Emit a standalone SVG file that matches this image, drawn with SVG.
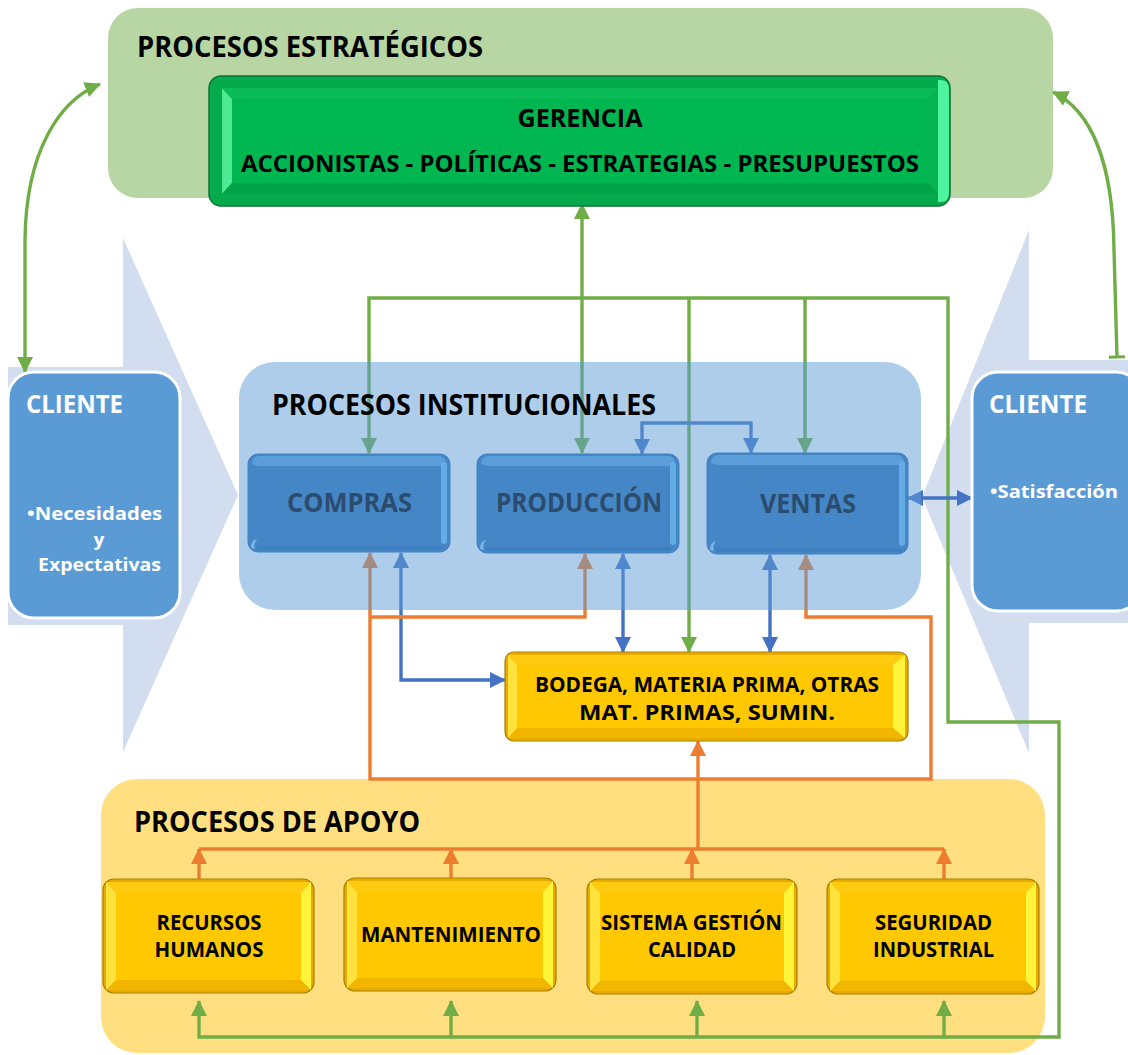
<svg xmlns="http://www.w3.org/2000/svg" width="1128" height="1055" viewBox="0 0 1128 1055">
  <style>
    .t{font-family:'Open Sans',Lato,'Liberation Sans',Arial,sans-serif;font-weight:700}
    .title{font-size:28px;fill:#000}
    .g{fill:none;stroke:#70AD47;stroke-width:3.4}
    .b{fill:none;stroke:#4472C4;stroke-width:3.4}
    .o{fill:none;stroke:#ED7D31;stroke-width:3.4}
    .chev{fill:#D2DEEF}
    .client{fill:#5B9BD5;stroke:#fff;stroke-width:3}
    .ctext{fill:#fff}
    .y-rim{fill:#E8AC00;stroke:#A98000;stroke-width:1.2}
    .y-l{fill:#FFE33C}
    .y-r{fill:#FFF43A}
    .y-t{fill:#FFCA10}
    .y-b{fill:#F2B500}
    .y-f{fill:#FFC800}
    .b-rim{fill:#4486C6;stroke:#4180C2;stroke-width:1}
    .b-t{fill:#5C9ED9}
    .b-r{fill:#66ACE4}
    .b-b{fill:#3F80C0}
    .btext{fill:#2C4C6E;font-size:26px}
    .ytext{fill:#000;font-size:20.5px}
  </style>
  <defs>
    <marker id="ag" viewBox="0 0 16 16" refX="15" refY="8" markerWidth="16" markerHeight="16" markerUnits="userSpaceOnUse" orient="auto-start-reverse"><path d="M0,0L16,8L0,16z" fill="#70AD47"/></marker>
    <marker id="ab" viewBox="0 0 16 16" refX="15" refY="8" markerWidth="16" markerHeight="16" markerUnits="userSpaceOnUse" orient="auto-start-reverse"><path d="M0,0L16,8L0,16z" fill="#4472C4"/></marker>
    <marker id="ao" viewBox="0 0 16 16" refX="15" refY="8" markerWidth="16" markerHeight="16" markerUnits="userSpaceOnUse" orient="auto-start-reverse"><path d="M0,0L16,8L0,16z" fill="#ED7D31"/></marker>
    <marker id="tg" viewBox="0 0 4 16" refX="2" refY="8" markerWidth="4" markerHeight="16" markerUnits="userSpaceOnUse" orient="auto"><path d="M2,0V16" stroke="#70AD47" stroke-width="3"/></marker>
  </defs>

  <!-- background chevrons -->
  <polygon class="chev" points="8,367 123,367 123,238 238,495 123,752 123,625 8,625"/>
  <polygon class="chev" points="1128,360 1029,360 1029,230 922,497 1029,753 1029,623 1128,623"/>

  <!-- process containers -->
  <g id="estrategicos">
    <rect x="108" y="8" width="945" height="190" rx="30" fill="#B8D6A3"/>
    <text class="t title" x="137" y="57" textLength="346" lengthAdjust="spacingAndGlyphs">PROCESOS ESTRATÉGICOS</text>
  </g>
  <g id="apoyo">
    <rect x="101" y="779" width="944" height="274" rx="36" fill="#FFDF80"/>
    <text class="t title" x="134" y="832" textLength="286" lengthAdjust="spacingAndGlyphs">PROCESOS DE APOYO</text>
  </g>

  <!-- connectors -->
  <g id="connectors">
    <path class="g" d="M100,84 C60,100 26,150 25,240 L25,372" marker-start="url(#ag)" marker-end="url(#ag)"/>
    <path class="g" d="M1053,92 C1090,110 1113,160 1114,250 L1117,357" marker-start="url(#ag)" marker-end="url(#tg)"/>
    <path class="g" d="M582,204 V453" marker-start="url(#ag)" marker-end="url(#ag)"/>
    <path class="g" d="M369,453 V298 H948 V722 H1059 V1037 H199 V1001" marker-start="url(#ag)" marker-end="url(#ag)"/>
    <path class="g" d="M689,298 V652" marker-end="url(#ag)"/>
    <path class="g" d="M805,298 V453" marker-end="url(#ag)"/>
    <path class="g" d="M451,1037 V1001" marker-end="url(#ag)"/>
    <path class="g" d="M697,1037 V1001" marker-end="url(#ag)"/>
    <path class="g" d="M944,1037 V1001" marker-end="url(#ag)"/>

    <path class="b" d="M642,454 V423 H751 V453" marker-start="url(#ab)" marker-end="url(#ab)"/>
    <path class="b" d="M401,553 V680 H505" marker-start="url(#ab)" marker-end="url(#ab)"/>
    <path class="b" d="M623,554 V652" marker-start="url(#ab)" marker-end="url(#ab)"/>
    <path class="b" d="M770,555 V652" marker-start="url(#ab)" marker-end="url(#ab)"/>
    <path class="b" d="M908,498 H972" marker-start="url(#ab)" marker-end="url(#ab)"/>

    <path class="o" d="M370,553 V779 H931 V617 H806 V555" marker-start="url(#ao)" marker-end="url(#ao)"/>
    <path class="o" d="M585,554 V617 H370" marker-start="url(#ao)"/>
    <path class="o" d="M698,849 V741" marker-end="url(#ao)"/>
    <path class="o" d="M199,849 H944"/>
    <path class="o" d="M199,879 V849" marker-end="url(#ao)"/>
    <path class="o" d="M451,878 V849" marker-end="url(#ao)"/>
    <path class="o" d="M692,879 V849" marker-end="url(#ao)"/>
    <path class="o" d="M944,879 V849" marker-end="url(#ao)"/>
  </g>

  <!-- institutional container (translucent, over the connectors) -->
  <g id="institucionales">
    <rect x="239" y="362" width="682" height="248" rx="36" fill="#5B9BD5" fill-opacity="0.5"/>
    <text class="t title" x="272" y="415" textLength="384" lengthAdjust="spacingAndGlyphs">PROCESOS INSTITUCIONALES</text>
  </g>

  <!-- management -->
  <g id="gerencia">
    <rect x="209" y="76" width="741" height="130" rx="12" fill="#05AA4C" stroke="#0B7436" stroke-width="1.5"/>
    <polygon points="222,88 232,99 232,183 222,194" fill="#4EEA93"/>
    <polygon points="222,88 938,88 928,99 232,99" fill="#0BBC56"/>
    <polygon points="222,194 938,194 928,183 232,183" fill="#00A347"/>
    <rect x="232" y="99" width="696" height="84" fill="#00B651"/>
    <polygon points="928,99 938,88 938,194 928,183" fill="#06B452"/>
    <path d="M938,80 H941 Q949,80 949,90 V192 Q949,202 941,202 H938 Z" fill="#4FF59E"/>
    <text class="t" x="580" y="127" font-size="24.5" text-anchor="middle" textLength="125" lengthAdjust="spacingAndGlyphs">GERENCIA</text>
    <text class="t" x="580" y="172" font-size="23" text-anchor="middle" textLength="678" lengthAdjust="spacingAndGlyphs">ACCIONISTAS - POLÍTICAS - ESTRATEGIAS - PRESUPUESTOS</text>
  </g>

  <!-- clients -->
  <g id="cliente-entrada">
    <rect class="client" x="8" y="372" width="172" height="246" rx="26"/>
    <text class="t ctext" x="26" y="413" font-size="24.5" textLength="97" lengthAdjust="spacingAndGlyphs">CLIENTE</text>
    <text class="t ctext" x="27" y="520" font-size="18.5" textLength="135" lengthAdjust="spacingAndGlyphs">•Necesidades</text>
    <text class="t ctext" x="99" y="546" font-size="18.5" text-anchor="middle">y</text>
    <text class="t ctext" x="38" y="571" font-size="18.5" textLength="123" lengthAdjust="spacingAndGlyphs">Expectativas</text>
  </g>
  <g id="cliente-salida">
    <rect class="client" x="972" y="372" width="170" height="239" rx="26"/>
    <text class="t ctext" x="989" y="413" font-size="24.5" textLength="98" lengthAdjust="spacingAndGlyphs">CLIENTE</text>
    <text class="t ctext" x="990" y="498" font-size="18.5" textLength="128" lengthAdjust="spacingAndGlyphs">•Satisfacción</text>
  </g>

  <!-- institutional processes -->
  <g id="compras">
    <rect class="b-rim" x="248" y="454" width="202" height="98" rx="10"/>
    <path class="b-t" d="M252,464 Q252,456 260,456 H438 Q446,456 446,464 L440,466 H258 Z"/>
    <rect class="b-r" x="441" y="462" width="6" height="82" rx="3"/>
    <path class="b-b" d="M256,546 H442 Q446,550 440,550 H258 Z"/>
    <path d="M251,548 Q251,540 257,539 Q253,544 255,549 Z" fill="#7DB6E8"/>
    <text class="t btext" x="349.5" y="512" text-anchor="middle" textLength="125" lengthAdjust="spacingAndGlyphs">COMPRAS</text>
  </g>
  <g id="produccion">
    <rect class="b-rim" x="477" y="454" width="202" height="99" rx="10"/>
    <path class="b-t" d="M481,464 Q481,456 489,456 H667 Q675,456 675,464 L669,466 H487 Z"/>
    <rect class="b-r" x="670" y="462" width="6" height="83" rx="3"/>
    <path class="b-b" d="M485,547 H671 Q675,551 669,551 H487 Z"/>
    <path d="M480,549 Q480,541 486,540 Q482,545 484,550 Z" fill="#7DB6E8"/>
    <text class="t btext" x="579" y="512" text-anchor="middle" textLength="166" lengthAdjust="spacingAndGlyphs">PRODUCCIÓN</text>
  </g>
  <g id="ventas">
    <rect class="b-rim" x="707" y="453" width="201" height="101" rx="10"/>
    <path class="b-t" d="M711,463 Q711,455 719,455 H896 Q904,455 904,463 L898,465 H717 Z"/>
    <rect class="b-r" x="899" y="461" width="6" height="85" rx="3"/>
    <path class="b-b" d="M715,548 H900 Q904,552 898,552 H717 Z"/>
    <path d="M710,550 Q710,542 716,541 Q712,546 714,551 Z" fill="#7DB6E8"/>
    <text class="t btext" x="808" y="513" text-anchor="middle" textLength="96" lengthAdjust="spacingAndGlyphs">VENTAS</text>
  </g>

  <!-- warehouse -->
  <g id="bodega">
    <rect class="y-rim" x="505" y="652" width="403" height="89" rx="9"/>
    <polygon class="y-t" points="508,655 905,655 893,665 517,665"/>
    <polygon class="y-b" points="508,738 905,738 893,728 517,728"/>
    <polygon class="y-l" points="508,655 517,665 517,728 508,738"/>
    <polygon class="y-r" points="905,655 893,665 893,728 905,738"/>
    <rect class="y-f" x="517" y="665" width="376" height="63"/>
    <text class="t ytext" x="707" y="692" text-anchor="middle" textLength="344" lengthAdjust="spacingAndGlyphs">BODEGA, MATERIA PRIMA, OTRAS</text>
    <text class="t ytext" x="707" y="720" text-anchor="middle" textLength="256" lengthAdjust="spacingAndGlyphs">MAT. PRIMAS, SUMIN.</text>
  </g>

  <!-- support processes -->
  <g id="recursos-humanos">
    <rect class="y-rim" x="103" y="879" width="211" height="114" rx="11"/>
    <polygon class="y-t" points="106,882 311,882 301,893 116,893"/>
    <polygon class="y-b" points="106,990 311,990 301,980 116,980"/>
    <polygon class="y-l" points="106,882 116,893 116,980 106,990"/>
    <polygon class="y-r" points="311,882 301,893 301,980 311,990"/>
    <rect class="y-f" x="116" y="893" width="185" height="87"/>
    <text class="t ytext" x="209" y="930" text-anchor="middle" textLength="105" lengthAdjust="spacingAndGlyphs">RECURSOS</text>
    <text class="t ytext" x="209" y="957" text-anchor="middle" textLength="109" lengthAdjust="spacingAndGlyphs">HUMANOS</text>
  </g>
  <g id="mantenimiento">
    <rect class="y-rim" x="344" y="878" width="212" height="113" rx="11"/>
    <polygon class="y-t" points="347,881 553,881 543,892 357,892"/>
    <polygon class="y-b" points="347,988 553,988 543,978 357,978"/>
    <polygon class="y-l" points="347,881 357,892 357,978 347,988"/>
    <polygon class="y-r" points="553,881 543,892 543,978 553,988"/>
    <rect class="y-f" x="357" y="892" width="186" height="86"/>
    <text class="t ytext" x="451" y="942" text-anchor="middle" textLength="180" lengthAdjust="spacingAndGlyphs">MANTENIMIENTO</text>
  </g>
  <g id="sistema-gestion-calidad">
    <rect class="y-rim" x="587" y="879" width="210" height="115" rx="11"/>
    <polygon class="y-t" points="590,882 794,882 784,893 600,893"/>
    <polygon class="y-b" points="590,991 794,991 784,981 600,981"/>
    <polygon class="y-l" points="590,882 600,893 600,981 590,991"/>
    <polygon class="y-r" points="794,882 784,893 784,981 794,991"/>
    <rect class="y-f" x="600" y="893" width="184" height="88"/>
    <text class="t ytext" x="691.5" y="930" text-anchor="middle" textLength="181" lengthAdjust="spacingAndGlyphs">SISTEMA GESTIÓN</text>
    <text class="t ytext" x="692" y="957" text-anchor="middle" textLength="88" lengthAdjust="spacingAndGlyphs">CALIDAD</text>
  </g>
  <g id="seguridad-industrial">
    <rect class="y-rim" x="827" y="879" width="212" height="115" rx="11"/>
    <polygon class="y-t" points="830,882 1036,882 1026,893 840,893"/>
    <polygon class="y-b" points="830,991 1036,991 1026,981 840,981"/>
    <polygon class="y-l" points="830,882 840,893 840,981 830,991"/>
    <polygon class="y-r" points="1036,882 1026,893 1026,981 1036,991"/>
    <rect class="y-f" x="840" y="893" width="186" height="88"/>
    <text class="t ytext" x="933.5" y="930" text-anchor="middle" textLength="117" lengthAdjust="spacingAndGlyphs">SEGURIDAD</text>
    <text class="t ytext" x="933.5" y="957" text-anchor="middle" textLength="121" lengthAdjust="spacingAndGlyphs">INDUSTRIAL</text>
  </g>
</svg>
